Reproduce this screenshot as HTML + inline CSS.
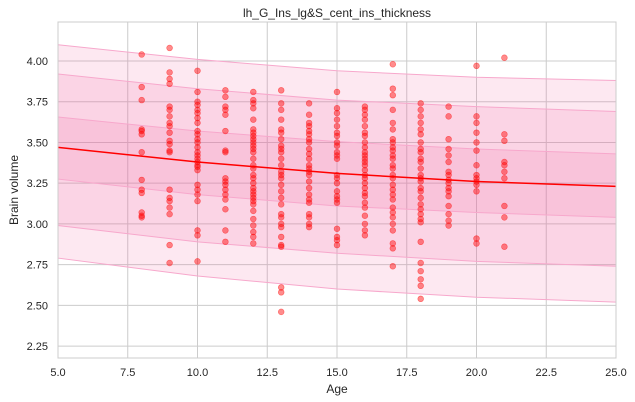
<!DOCTYPE html>
<html><head><meta charset="utf-8"><style>
body{margin:0;background:#fff;}
svg{display:block;font-family:"Liberation Sans","DejaVu Sans",sans-serif;}
</style></head><body>
<svg id="chart" width="635" height="402" xmlns="http://www.w3.org/2000/svg">
<rect x="0" y="0" width="635" height="402" fill="#fff"/>
<g id="grid"></g>
<g id="bands"></g>
<g id="points"></g>
<g id="line"></g>
<rect x="58" y="22" width="558" height="336" fill="none" stroke="#cccccc" stroke-width="1"/>
<g id="axes"></g>
<text x="337" y="17" text-anchor="middle" font-size="12" fill="#262626">lh_G_Ins_lg&amp;S_cent_ins_thickness</text>
<text x="337" y="393" text-anchor="middle" font-size="12" fill="#262626">Age</text>
<text x="18" y="190" text-anchor="middle" font-size="12" fill="#262626" transform="rotate(-90 18 190)">Brain volume</text>
</svg>
<script>
const xTicks=[5,7.5,10,12.5,15,17.5,20,22.5,25];
const xTickLabels=["5.0","7.5","10.0","12.5","15.0","17.5","20.0","22.5","25.0"];
const yTicks=[2.25,2.5,2.75,3.0,3.25,3.5,3.75,4.0];
const yTickLabels=["2.25","2.50","2.75","3.00","3.25","3.50","3.75","4.00"];
const bandAges=[5,10,15,20,25];
const meanLine=[3.47,3.38,3.31,3.26,3.23];
const innerUpper=[3.656,3.57,3.505,3.46,3.43];
const innerLower=[3.275,3.18,3.11,3.07,3.04];
const midUpper=[3.92,3.83,3.76,3.72,3.69];
const midLower=[2.99,2.89,2.82,2.77,2.74];
const outerUpper=[4.10,4.01,3.94,3.90,3.88];
const outerLower=[2.79,2.68,2.60,2.55,2.52];
const ages=[8,9,10,11,12,13,14,15,16,17,18,19,20,21];
const values=[
[4.04,3.84,3.76,3.58,3.57,3.55,3.44,3.27,3.21,3.19,3.07,3.05,3.04],
[4.08,3.93,3.89,3.86,3.72,3.70,3.66,3.62,3.60,3.56,3.51,3.49,3.45,3.44,3.21,3.16,3.14,3.10,3.06,2.87,2.76],
[3.94,3.81,3.75,3.73,3.70,3.68,3.65,3.62,3.57,3.55,3.52,3.50,3.47,3.44,3.42,3.40,3.38,3.36,3.35,3.33,3.24,3.21,3.18,3.14,2.96,2.93,2.77],
[3.82,3.78,3.72,3.70,3.67,3.57,3.45,3.44,3.28,3.26,3.24,3.21,3.18,3.15,3.09,2.96,2.89],
[3.81,3.76,3.74,3.71,3.64,3.58,3.56,3.54,3.52,3.50,3.48,3.46,3.44,3.40,3.36,3.34,3.30,3.28,3.25,3.22,3.20,3.18,3.16,3.14,3.12,3.08,3.03,2.99,2.95,2.92,2.88],
[3.82,3.74,3.70,3.64,3.58,3.56,3.52,3.48,3.46,3.44,3.40,3.36,3.32,3.30,3.28,3.24,3.20,3.16,3.12,3.06,3.04,3.00,2.98,2.92,2.87,2.86,2.61,2.58,2.46],
[3.74,3.67,3.62,3.60,3.57,3.55,3.52,3.50,3.46,3.43,3.40,3.36,3.34,3.32,3.30,3.26,3.22,3.18,3.15,3.13,3.06,3.04,3.00,2.98],
[3.81,3.71,3.68,3.64,3.60,3.56,3.54,3.50,3.48,3.44,3.42,3.40,3.30,3.28,3.25,3.20,3.17,3.15,3.13,2.97,2.92,2.90,2.87],
[3.72,3.70,3.67,3.64,3.60,3.56,3.54,3.50,3.47,3.44,3.42,3.40,3.38,3.36,3.33,3.30,3.28,3.25,3.22,3.19,3.17,3.13,3.10,3.05,3.00,2.96,2.93],
[3.98,3.83,3.79,3.70,3.62,3.58,3.52,3.50,3.47,3.45,3.42,3.40,3.36,3.34,3.30,3.28,3.24,3.21,3.18,3.15,3.10,3.07,3.04,3.00,2.96,2.88,2.85,2.74],
[3.74,3.70,3.66,3.62,3.58,3.55,3.50,3.46,3.44,3.40,3.38,3.34,3.30,3.28,3.26,3.22,3.20,3.16,3.12,3.09,3.06,3.03,3.01,2.89,2.76,2.71,2.66,2.62,2.54],
[3.72,3.66,3.52,3.46,3.42,3.38,3.32,3.30,3.27,3.25,3.22,3.20,3.17,3.11,3.06,3.02,2.99],
[3.97,3.66,3.62,3.56,3.50,3.45,3.36,3.30,3.28,3.26,3.24,3.20,2.91,2.88],
[4.02,3.55,3.51,3.38,3.36,3.32,3.28,3.11,3.04,2.86]
];
const NS="http://www.w3.org/2000/svg";
const X0=58,X1=616,Y0=22,Y1=358;
function xs(v){return X0+(v-5)/(25-5)*(X1-X0);}
function ys(v){return 61+(4.0-v)*162.9;}
function mk(tag,attrs,parent){const e=document.createElementNS(NS,tag);for(const k in attrs)e.setAttribute(k,attrs[k]);parent.appendChild(e);return e;}
const grid=document.getElementById('grid'),axes=document.getElementById('axes');
xTicks.forEach((t,i)=>{
  const l=mk('line',{x1:xs(t),x2:xs(t),y1:Y0,y2:Y1,stroke:'#cccccc','stroke-width':1},grid);
  
  
  const tx=mk('text',{x:xs(t),y:376,'text-anchor':'middle','font-size':11,fill:'#262626'},axes);
  tx.textContent=xTickLabels[i];
  
  
});
yTicks.forEach((t,i)=>{
  const l=mk('line',{x1:X0,x2:X1,y1:ys(t),y2:ys(t),stroke:'#cccccc','stroke-width':1},grid);
  
  
  const tx=mk('text',{x:48,y:ys(t)+4,'text-anchor':'end','font-size':11,fill:'#262626'},axes);
  tx.textContent=yTickLabels[i];
  
  
});
const bands=document.getElementById('bands');
function band(up,lo,name){
  let d='M'+bandAges.map((a,i)=>xs(a)+','+ys(up[i])).join('L');
  d+='L'+bandAges.slice().reverse().map((a,j)=>{const i=bandAges.length-1-j;return xs(a)+','+ys(lo[i]);}).join('L')+'Z';
  const p=mk('path',{d:d,fill:'rgb(238,90,155)','fill-opacity':0.14,stroke:'#f7a8cc','stroke-width':1},bands);
  
  
}
band(outerUpper,outerLower,'outer-band');
band(midUpper,midLower,'middle-band');
band(innerUpper,innerLower,'inner-band');
const pts=document.getElementById('points');
ages.forEach((a,i)=>{values[i].forEach(v=>{
  const c=mk('circle',{cx:xs(a),cy:ys(v),r:2.9,fill:'red','fill-opacity':0.45,stroke:'red','stroke-opacity':0.5,'stroke-width':0.6},pts);
  
  
});});
const ln=mk('polyline',{points:bandAges.map((a,i)=>xs(a)+','+ys(meanLine[i])).join(' '),fill:'none',stroke:'red','stroke-width':1.5},document.getElementById('line'));


</script>
</body></html>
